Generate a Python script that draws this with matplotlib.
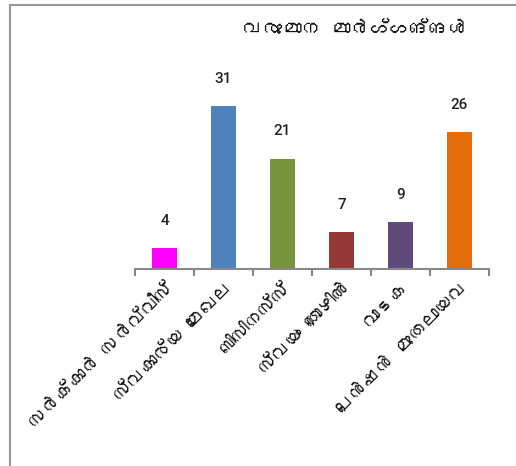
import matplotlib.pyplot as plt
from matplotlib import font_manager
from matplotlib.ft2font import FT2Font
from matplotlib.lines import Line2D
import numpy as np

title = "വരുമാന മാർഗ്ഗങ്ങൾ"
categories = ["സർക്കാർ സർവ്വീസ്", "സ്വകാര്യ മേഖല", "ബിസിനസ്സ്",
              "സ്വയം തൊഴിൽ", "വാടക", "പെൻഷൻ മുതലായവ"]
values = [4, 31, 21, 7, 9, 26]
colors = ["#FF00FF", "#4F81BD", "#77933C", "#953735", "#604A7B", "#E46C0A"]


def malayalam_families():
    # look for any installed font that carries Malayalam glyphs
    found = []
    for f in font_manager.fontManager.ttflist:
        try:
            cmap = FT2Font(f.fname).get_charmap()
        except Exception:
            continue
        if 0x0D35 in cmap and 0x0D30 in cmap and f.name not in found:
            found.append(f.name)
    return found


ml = malayalam_families()
plt.rcParams['font.family'] = ml + ['Noto Sans', 'DejaVu Sans']

fig = plt.figure(figsize=(5.16, 4.66), dpi=100)
ax = fig.add_axes([0.2616, 0.4227, 0.686, 0.4515])

x = np.arange(len(categories))
ax.bar(x, values, width=0.42, color=colors, zorder=2)

for xi, v in zip(x, values):
    ax.annotate(str(v), (xi, v), xytext=(0, 19.5), textcoords="offset points",
                ha="center", va="center", fontsize=11, color="#222222",
                family=['Roboto', 'DejaVu Sans'], fontweight="medium")

ax.set_xlim(-0.5, len(categories) - 0.5)
ax.set_ylim(0, 40)
ax.set_yticks([])
for s in ["left", "right", "top"]:
    ax.spines[s].set_visible(False)
ax.spines["bottom"].set_color("#888888")
ax.spines["bottom"].set_linewidth(1.5)

# boundary ticks between categories, labels at the centres
ax.set_xticks(x)
ax.set_xticklabels(categories, rotation=45, ha="right", rotation_mode="anchor",
                   fontsize=13.5, color="#111111")
ax.tick_params(axis="x", which="major", length=0, pad=7)
ax.set_xticks(np.arange(-0.5, len(categories)), minor=True)
ax.tick_params(axis="x", which="minor", length=5, width=1.5, color="#888888")

fig.text(0.688, 0.94, title, ha="center", va="center", fontsize=14, color="#111111")

# frame lines along the top and left
fig.add_artist(Line2D([0.019, 0.019], [0.0, 0.989], color="#999999", lw=1.5))
fig.add_artist(Line2D([0.019, 1.0], [0.989, 0.989], color="#999999", lw=1.5))

fig.savefig("out.png", dpi=100)
